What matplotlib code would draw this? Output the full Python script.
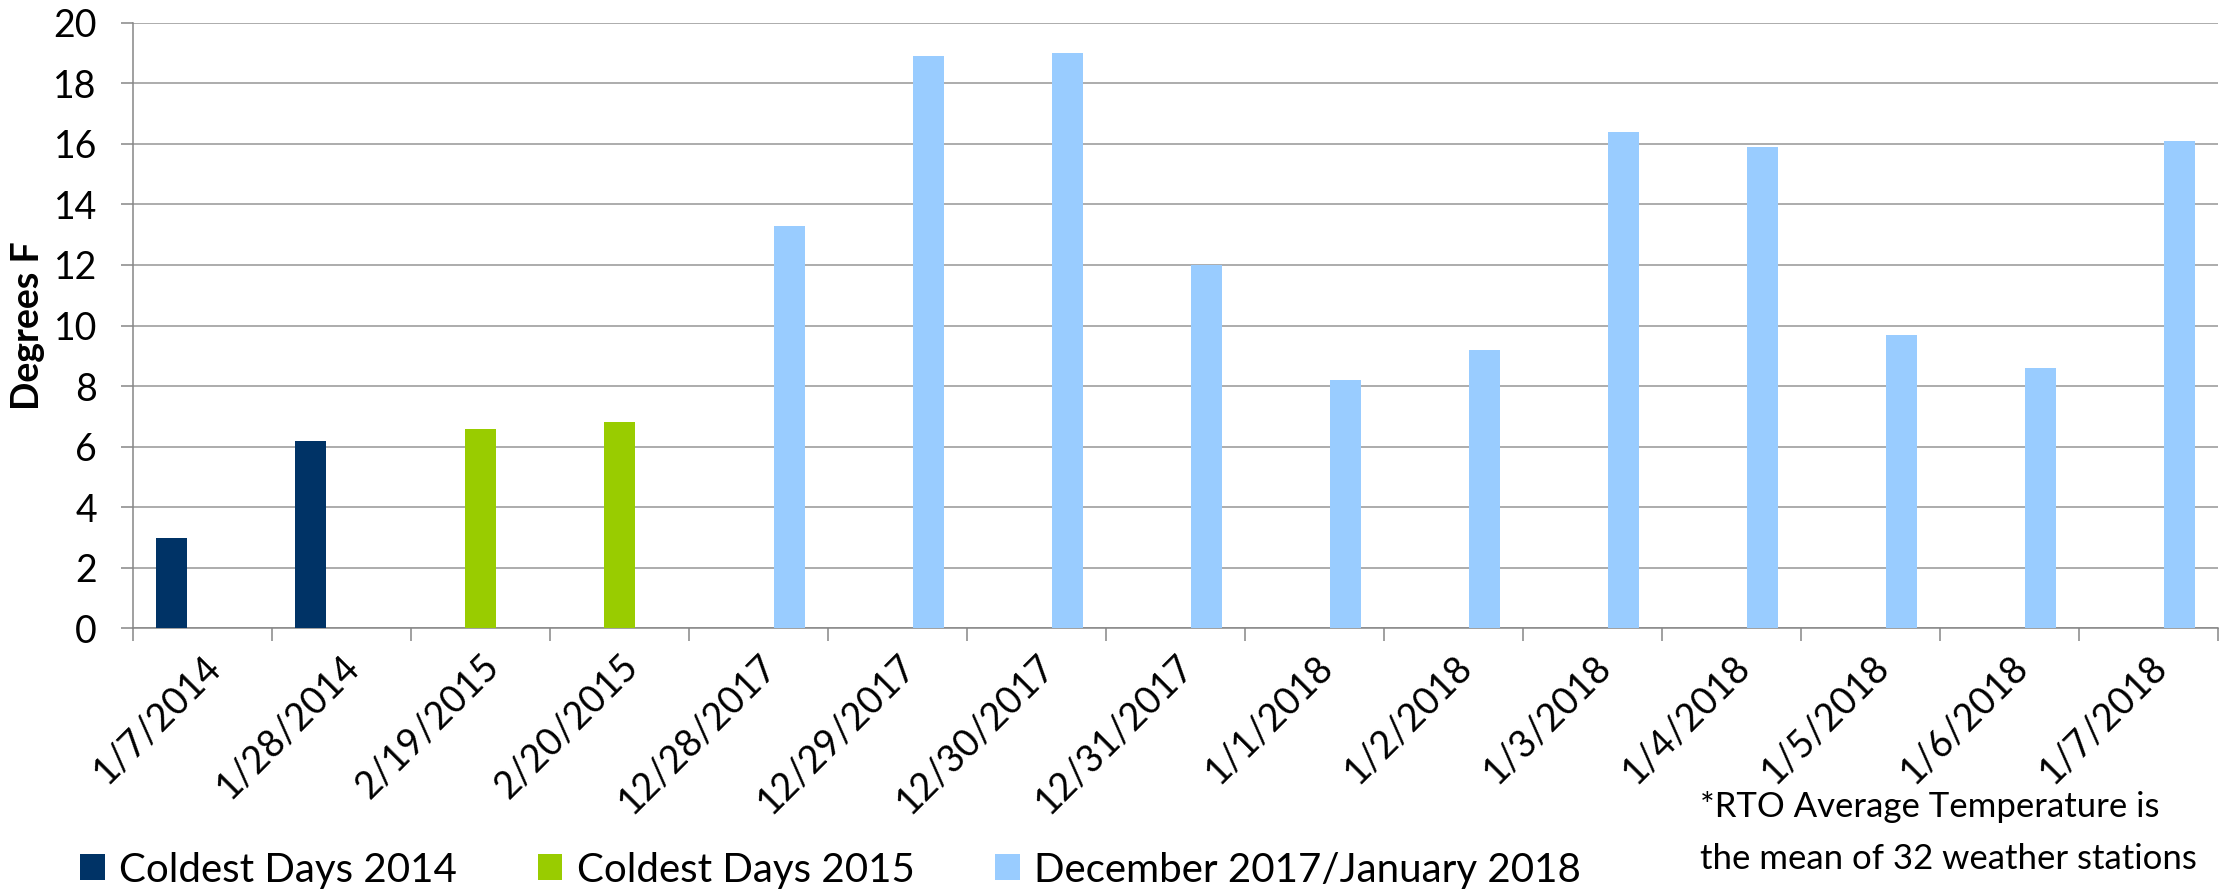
import numpy as np
import matplotlib
matplotlib.use('Agg')
import matplotlib.pyplot as plt
from matplotlib.patches import Patch

plt.rcParams['font.family'] = ['Lato', 'DejaVu Sans']

# --- data -------------------------------------------------------------
DATES = ['1/7/2014', '1/28/2014', '2/19/2015', '2/20/2015', '12/28/2017',
         '12/29/2017', '12/30/2017', '12/31/2017', '1/1/2018', '1/2/2018',
         '1/3/2018', '1/4/2018', '1/5/2018', '1/6/2018', '1/7/2018']
nan = np.nan
COLDEST_2014 = [3.0, 6.2, nan, nan, nan, nan, nan, nan, nan, nan, nan, nan, nan, nan, nan]
COLDEST_2015 = [nan, nan, 6.6, 6.8, nan, nan, nan, nan, nan, nan, nan, nan, nan, nan, nan]
DEC_JAN_2018 = [nan, nan, nan, nan, 13.3, 18.9, 19.0, 12.0, 8.2, 9.2, 16.4, 15.9, 9.7, 8.6, 16.1]

SERIES = [
    ('Coldest Days 2014', COLDEST_2014, '#003366'),
    ('Coldest Days 2015', COLDEST_2015, '#99CC00'),
    ('December 2017/January 2018', DEC_JAN_2018, '#99CCFF'),
]
NOTE = '*RTO Average Temperature is\nthe mean of 32 weather stations'

W, H = 2229, 896
fig = plt.figure(figsize=(W / 100, H / 100), dpi=100)
ax = fig.add_axes([133 / W, 1 - 628.4 / H, (2218 - 133) / W, (628.4 - 22.7) / H])

x = np.arange(len(DATES))
bw = 0.223
for i, (name, vals, col) in enumerate(SERIES):
    ax.bar(x + (i - 1) * bw, vals, width=bw, color=col, zorder=3)

ax.set_xlim(-0.5, len(DATES) - 0.5)
ax.set_ylim(0, 20)
ax.set_yticks(range(0, 21, 2))
ax.yaxis.grid(True, color='#A6A6A6', linewidth=1.3, zorder=0)
ax.tick_params(axis='y', labelsize=27, length=9, width=1.1, color='#868686', pad=17)

ax.set_xticks(x)
ax.set_xticklabels(DATES, rotation=45, ha='right', va='top', rotation_mode='anchor', fontsize=27)
ax.tick_params(axis='x', which='major', length=0, pad=14)
ax.set_xticks(np.arange(-0.5, len(DATES)), minor=True)
ax.tick_params(axis='x', which='minor', length=9, width=1.1, color='#868686')

for s in ['top', 'right']:
    ax.spines[s].set_visible(False)
for s in ['left', 'bottom']:
    ax.spines[s].set_color('#868686')
    ax.spines[s].set_linewidth(1.1)

ax.set_ylabel('Degrees F', fontsize=27, fontweight='bold', labelpad=6)

handles = [Patch(facecolor=c, edgecolor='none', label=n) for n, _, c in SERIES]
fig.legend(handles=handles, loc='center left', bbox_to_anchor=(80 / W, 1 - 870 / H),
           ncol=3, frameon=False, fontsize=29, handlelength=0.62, handleheight=0.62,
           handletextpad=0.35, columnspacing=2.0, borderaxespad=0, borderpad=0)

fig.text(1700 / W, 1 - 833 / H, NOTE, fontsize=25, ha='left', va='center', linespacing=1.8)

fig.savefig('out.png', dpi=100)
